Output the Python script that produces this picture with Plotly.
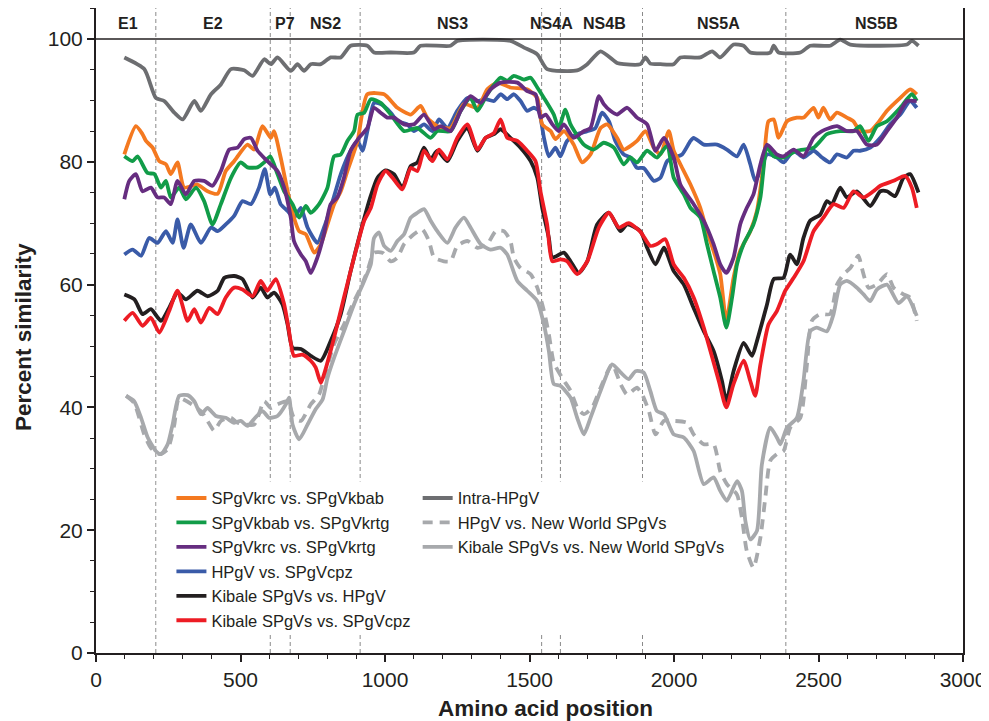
import plotly.graph_objects as go

# ---------------- data ----------------
intra_x = [98,167,207,236,271,300,340,363,398,432,467,513,542,582,605,628,674,697,720,743,778,812,847,881,939,962,1020,1100,1123,1227,1250,1434,1481,1527,1561,1665,1700,1746,1803,1826,1884,1901,1918,1953,1999,2022,2091,2132,2160,2206,2241,2264,2333,2345,2362,2437,2471,2540,2575,2610,2806,2823,2846]
intra_y = [97,95.1,90.4,89.9,88,86.9,89.9,88.3,91,92.6,95.1,94.9,94,96.7,95.9,97,94.8,95.9,94.8,95.9,95.9,97,97,98.9,98.9,97.8,97.8,97.8,98.9,98.9,99.7,99.7,98.6,97.5,95.1,94.9,95.9,98,96.1,95.9,95.9,97,96,95.9,95.9,97,97,98,97,99.1,98.9,97.8,97.8,98.9,97.8,97.8,98.9,98.9,99.9,99.1,99.1,99.7,98.9]

orange_x = [98,138,161,173,196,219,242,259,282,305,351,386,421,449,478,524,547,576,605,616,639,663,685,703,726,755,778,801,824,847,870,905,939,997,1043,1089,1123,1146,1181,1227,1273,1320,1354,1389,1434,1492,1527,1544,1573,1590,1619,1653,1682,1711,1746,1769,1803,1826,1872,1901,1930,1953,1982,1999,2022,2057,2091,2114,2137,2160,2181,2206,2229,2264,2287,2310,2327,2345,2362,2391,2425,2448,2483,2500,2517,2540,2564,2598,2621,2644,2679,2702,2737,2783,2817,2840]
orange_y = [81.2,85.8,84.5,83.4,82.3,80.1,79.6,78,79.9,75.8,76.3,75.2,74.8,78.5,80.1,82.8,82,85.8,83.9,85,80.7,75.2,70.9,68.7,68.2,65.2,66.6,69.8,73.1,75.2,78.5,83.4,91,91,88.8,87.7,89.1,87.2,85.8,85.5,89.4,88.8,91.8,92.9,92.1,91.8,90.4,86.1,85,83.7,85,82.8,79.9,81.2,85.5,86.1,83.9,82,83.4,85,82.3,81.2,85,81.8,79.6,76.3,72.5,68.7,65.5,61.7,54.1,61.1,65.5,68.7,72,79.6,86.6,86.9,83.9,86.6,87.2,87.2,88.8,87.2,88.8,86.9,88,87.2,86.6,85,85,86.1,88.3,90.4,91.8,91]

green_x = [98,127,144,178,202,225,242,259,288,311,346,374,403,432,467,501,524,559,582,603,628,651,680,703,726,743,772,801,824,847,870,893,905,928,951,985,1020,1066,1112,1158,1181,1227,1262,1296,1320,1354,1400,1423,1446,1481,1504,1527,1550,1584,1601,1624,1642,1688,1722,1757,1792,1826,1849,1872,1907,1941,1976,1999,2034,2057,2091,2114,2137,2160,2181,2201,2218,2241,2275,2299,2322,2345,2379,2425,2483,2529,2575,2621,2644,2673,2702,2737,2783,2823,2840]
green_y = [80.9,80.1,80.9,78.2,78,75.8,76.9,74.2,75.8,73.9,75.8,73.6,69.8,73.1,77.4,79.9,79.1,79.1,79.9,80.9,78,75.2,73.1,70.9,72.8,71.7,73.1,75.8,80.9,81.2,83.4,85,87.7,88,90.2,89.6,87.7,85,85.5,83.9,85,85,88.3,90.4,88.3,91,93.7,93.2,94,93.4,93.7,92.1,90.4,87.7,85.5,88.5,86.1,82.8,82,83.1,82.3,79.6,80.7,79.9,81.8,80.7,82.6,77.4,74.7,72.5,70.9,66.6,62.2,57.9,53,57.9,63.3,66.6,69.8,74.2,82.3,80.9,80.7,81.8,82.3,84.5,85,85,85.8,83.4,85.8,86.6,88.8,91,89.9]

purple_x = [98,115,138,161,190,213,236,259,282,311,340,374,403,432,461,490,513,536,559,593,628,651,674,685,709,726,743,766,789,812,835,858,881,910,939,962,985,1008,1031,1066,1100,1135,1170,1193,1227,1262,1296,1331,1365,1400,1458,1492,1521,1538,1556,1579,1601,1619,1653,1688,1711,1740,1757,1780,1803,1838,1872,1907,1936,1965,1999,2022,2068,2103,2137,2160,2181,2206,2229,2252,2275,2299,2322,2356,2379,2414,2448,2483,2512,2564,2598,2633,2667,2702,2737,2771,2806,2840]
purple_y = [73.9,76.9,78,75.2,75.8,74.2,74.2,73.1,76.9,74.7,76.9,76.9,76.1,78.5,82,82.3,83.7,83.9,81.8,80.1,78.5,75.8,70.9,67.1,64.9,63.8,61.9,64.4,68.2,73.1,74.2,77.4,81.8,83.9,85.5,88.8,88,87.2,87.2,86.1,86.1,87.7,85.3,85.8,85,88.3,90.7,89.6,91.8,92.9,92.9,91.5,91,87.2,87.7,86.1,85,86.1,83.9,85,85.5,90.7,89.4,88.3,87.7,88.8,87.2,86.1,81.8,83.9,80.7,76.3,73.1,70.4,66.6,63.3,61.9,64.4,69.8,72.5,74.7,79.6,82.8,81.2,80.9,82,80.9,83.9,85,85.8,85,85,82.8,82.8,85,87.2,89.9,89.9]

blue_x = [98,127,156,184,213,242,265,282,303,328,363,398,421,449,478,507,536,564,584,603,619,639,663,685,709,732,766,789,812,847,881,905,922,939,962,985,1020,1043,1077,1100,1135,1164,1187,1216,1250,1285,1320,1348,1377,1400,1423,1446,1469,1492,1515,1532,1550,1567,1590,1607,1630,1665,1700,1728,1751,1775,1797,1826,1849,1872,1895,1930,1953,1976,1999,2028,2057,2068,2103,2149,2183,2218,2241,2264,2281,2299,2322,2356,2379,2414,2448,2483,2512,2540,2564,2598,2621,2644,2679,2714,2748,2783,2817,2840]
blue_y = [64.9,65.7,64.7,67.6,66.8,68.7,66.8,70.6,66,69.8,66.8,69.3,68.7,69.8,71.2,73.6,73.1,75.8,78.8,74.7,75.8,73.1,72,70.9,72.5,69.3,66.8,69.3,72.5,78,81.8,83.4,81.8,85,89.6,89.4,88,86.6,86.1,85,86.1,85,86.9,85.5,88.3,90.4,89.9,90.2,89.9,91,90.2,91,89.9,88.3,88.8,88.3,83.9,80.9,82.3,80.9,83.4,84.5,85,85.5,88,86.6,83.4,81.2,80.7,79,79,76.9,77.4,80.1,80.7,81.2,83.4,83.9,82.8,82.8,82,80.9,82.8,79.6,76.9,78.5,81.2,80.7,79.9,81.8,80.7,81.8,80.7,79.9,81.2,80.7,81.8,81.8,82.3,83.9,86.1,87.7,89.9,88.8]

black_x = [98,133,161,190,225,253,282,311,351,386,421,444,478,507,542,570,593,616,645,663,680,709,743,778,812,847,881,916,951,974,1002,1031,1060,1089,1112,1135,1158,1181,1216,1250,1285,1320,1348,1377,1400,1434,1469,1504,1527,1544,1567,1579,1619,1642,1671,1700,1734,1775,1815,1838,1884,1907,1936,1965,1999,2034,2068,2103,2137,2166,2181,2206,2241,2270,2287,2322,2345,2379,2402,2425,2448,2471,2506,2529,2546,2575,2598,2633,2679,2714,2737,2765,2794,2817,2846]
black_y = [58.4,57.6,55.2,56,54.1,56.2,58.7,57.6,59,58.1,59,61.1,61.4,60.9,57.9,59.5,57.9,58.7,56.8,53.5,49.7,49.5,48.4,47.6,50.8,55.2,62.2,68.7,74.5,77.4,78.6,78,75.8,79.3,79.9,82.3,80.4,81.8,80.1,83.4,85.5,81.8,83.9,84.5,85.3,83.9,82.3,80.1,77.4,72.5,67.6,64.4,65.2,63.8,61.9,63.8,69.8,71.7,68.7,69.8,68.7,66,63.3,66,62.2,60,56.2,52.4,49.2,44.3,41,45.9,50.5,48.4,50.8,56.8,60.9,61.1,64.9,63.3,67.6,70.4,71.4,73.6,73.1,75.8,74.2,75.2,72.8,75.2,75.2,74.4,77.4,78,75]

red_x = [98,127,161,190,219,253,282,317,340,363,392,421,449,478,507,542,570,593,622,651,668,685,714,743,760,778,789,824,858,893,928,951,974,1002,1031,1060,1089,1112,1135,1164,1187,1216,1250,1285,1320,1348,1377,1400,1423,1458,1492,1521,1538,1561,1579,1607,1630,1665,1700,1740,1775,1809,1843,1884,1918,1941,1970,1999,2034,2068,2103,2126,2155,2181,2206,2241,2264,2281,2299,2327,2356,2385,2414,2448,2483,2517,2552,2587,2621,2656,2690,2714,2760,2800,2823,2840]
red_y = [54.1,55.4,53.3,54.6,52.2,55.7,59,54.1,56,53.8,56.2,55.2,57.9,59.5,59.2,58.1,60.6,59,60.9,56.8,52.4,48.4,48.6,47.6,46.5,44,45.4,51.4,57.9,64.4,70.4,72.5,76.3,78.5,77.1,75.5,79,78.5,81.8,80.1,82,80.4,83.9,86.1,82,83.9,84.7,86.9,83.9,83.4,81.8,80.1,75.2,69.8,63.8,64.1,63.8,61.7,63.8,69.3,71.7,69.3,70,68.6,66.3,66.6,67.4,63.3,61.1,57.9,53,49.2,44.3,40,43.8,47.6,44.3,41.9,47,53.5,55.7,59,61.1,63.8,68.7,70.9,73.1,72.5,75.2,74.2,75.2,76.1,76.9,77.7,75.8,72.5]

kibnw_x = [104,132,156,179,207,225,248,265,288,317,340,363,386,415,449,478,501,524,547,576,599,628,657,668,680,703,732,760,784,801,824,858,893,928,951,962,979,997,1020,1043,1066,1089,1112,1135,1158,1181,1216,1244,1273,1296,1331,1365,1400,1423,1458,1492,1527,1550,1567,1584,1607,1642,1665,1688,1711,1746,1786,1815,1843,1867,1895,1918,1941,1965,1999,2034,2068,2103,2137,2160,2183,2218,2235,2247,2264,2287,2304,2333,2356,2368,2391,2425,2448,2471,2494,2529,2552,2575,2598,2633,2656,2679,2702,2737,2777,2806,2840]
kibnw_y = [41.9,41,38.3,35.1,32.9,32.4,34,37.2,41.9,42,41,38.9,39.9,38.6,38.3,37.5,37.8,37,38.1,39.4,38.3,38.6,40.5,41.6,37.2,34.8,37.2,39.7,41.3,44.8,48.1,52.4,56.8,60.6,63.3,67.6,68.5,66.3,65.5,67.1,68.2,70.9,71.7,72.3,70.4,68.7,66.8,69.3,70.9,69.3,66.6,65.7,66,64.9,60.6,59,57.3,53.5,49.2,43.8,43.5,41.6,38.3,35.6,38.3,42.7,47,45.7,44.6,45.9,45.7,42.7,39.4,38.9,35.6,35.1,32.9,27.5,28.6,26.4,24.8,28,26.4,21.5,18.5,19.9,30.7,36.7,35.1,34,36.7,38.3,44.3,52.4,53,52.4,55.2,60,60.6,59.5,58.4,57.3,59.2,60,57,58.1,54.9]

hpgnw_x = [104,132,167,190,219,248,271,288,363,386,409,432,467,490,547,582,605,628,663,685,709,743,772,789,824,858,893,916,939,962,991,1020,1043,1066,1100,1129,1152,1170,1204,1227,1250,1285,1320,1354,1383,1411,1434,1446,1469,1504,1527,1550,1567,1584,1613,1642,1665,1688,1717,1746,1786,1815,1838,1872,1890,1913,1936,1965,1999,2045,2068,2103,2137,2160,2183,2218,2235,2252,2275,2299,2316,2333,2356,2379,2402,2437,2460,2477,2506,2540,2564,2587,2610,2638,2650,2673,2702,2737,2760,2794,2817,2840]
hpgnw_y = [41.9,40.7,35.6,33.4,32.4,33.2,37.2,41.5,39.4,37.8,36.2,37.8,38.3,37.5,37.2,41,39.9,40.5,41,38.3,37.8,40.5,42.1,44.8,50.3,53.5,57.3,59.5,62.2,65.2,65.2,63.8,64.4,66.6,68.2,69,67.1,64.4,63.8,63.8,66.3,67.1,66,66.6,68.7,68.7,67.1,64.4,62.7,61.7,59.5,55.7,51.9,47.3,44.8,42.7,40,38.9,40,43.2,47,43.8,42.1,43.2,42.1,39.4,35.6,37.8,37.8,37.5,35.6,34,34,29.6,27.5,25.8,22,16.6,13.9,18.8,25.3,31.3,32.4,32.9,36.7,38.3,47,54.1,55.2,55.2,60,61.7,62.7,64.7,62.7,59.5,60,61.7,59.5,58.4,57.9,54.1]

gene_names = ["E1", "E2", "P7", "NS2", "NS3", "NS4A", "NS4B", "NS5A", "NS5B"]
gene_label_x = [110, 404, 653, 795, 1234, 1576, 1759, 2153, 2700]
gene_bounds = [207, 603, 672, 914, 1542, 1607, 1891, 2387]

y_ticks = [0, 20, 40, 60, 80, 100]
x_ticks = [0, 500, 1000, 1500, 2000, 2500, 3000]

# ---------------- figure ----------------
FONT = "Arial, Liberation Sans, Helvetica, sans-serif"
INK = "#231f20"

series = [
    # name, x, y, color, dash, legend, rank
    ("HPgV vs. New World SPgVs", hpgnw_x, hpgnw_y, "#a7a9ac", "10px,7px", "legend2", 2),
    ("Kibale SPgVs vs. New World SPgVs", kibnw_x, kibnw_y, "#a7a9ac", "solid", "legend2", 3),
    ("Intra-HPgV", intra_x, intra_y, "#6d6e71", "solid", "legend2", 1),
    ("HPgV vs. SPgVcpz", blue_x, blue_y, "#3a5ba8", "solid", "legend", 4),
    ("SPgVkrc vs. SPgVkbab", orange_x, orange_y, "#f47920", "solid", "legend", 1),
    ("SPgVkbab vs. SPgVkrtg", green_x, green_y, "#119c48", "solid", "legend", 2),
    ("SPgVkrc vs. SPgVkrtg", purple_x, purple_y, "#662d80", "solid", "legend", 3),
    ("Kibale SPgVs vs. HPgV", black_x, black_y, "#231f20", "solid", "legend", 5),
    ("Kibale SPgVs vs. SPgVcpz", red_x, red_y, "#ed1c24", "solid", "legend", 6),
]

fig = go.Figure()
for name, xs, ys, col, dash, leg, rank in series:
    fig.add_trace(go.Scatter(
        x=xs, y=ys, mode="lines", name=name,
        line=dict(color=col, width=3.8, dash=dash, shape="spline", smoothing=0.6),
        legend=leg, legendrank=rank, legendgroup=name,
        hoverinfo="skip",
    ))

shapes = []
for b in gene_bounds:
    shapes.append(dict(type="line", xref="x", yref="paper", x0=b, x1=b, y0=0, y1=1,
                       line=dict(color="#8a8a8a", width=1, dash="4px,3px"), layer="below"))
# white backing behind the legend block (hides gene boundary lines there)
shapes.append(dict(type="rect", xref="paper", yref="paper", x0=0.07, x1=0.737, y0=0.030, y1=0.266,
                   fillcolor="white", line=dict(width=0), layer="below"))
# line separating gene band from data area
shapes.append(dict(type="line", xref="paper", yref="y", x0=0, x1=1, y0=100, y1=100,
                   line=dict(color=INK, width=1.6), layer="above"))

annotations = []
for g, gx in zip(gene_names, gene_label_x):
    annotations.append(dict(x=gx, y=102.45, xref="x", yref="y", text=f"<b>{g}</b>", showarrow=False,
                            font=dict(family=FONT, size=16, color=INK), xanchor="center", yanchor="middle"))
annotations.append(dict(x=-0.083, y=0.49, xref="paper", yref="paper", text="<b>Percent similarity</b>",
                        textangle=-90, showarrow=False, font=dict(family=FONT, size=22.5, color=INK),
                        xanchor="center", yanchor="middle"))
annotations.append(dict(x=0.519, y=-0.086, xref="paper", yref="paper", text="<b>Amino acid position</b>",
                        showarrow=False, font=dict(family=FONT, size=22.5, color=INK),
                        xanchor="center", yanchor="middle"))

# the page body has an 8px margin, so the figure is sized/positioned to compensate
fig.update_layout(
    width=981, height=713,
    margin=dict(l=88, r=26, t=0, b=68, autoexpand=False),
    paper_bgcolor="white", plot_bgcolor="white",
    font=dict(family=FONT, color=INK),
    shapes=shapes, annotations=annotations,
    showlegend=True,
    legend=dict(x=0.087, y=0.267, xanchor="left", yanchor="top", bgcolor="rgba(255,255,255,0)",
                font=dict(family=FONT, size=16.5, color=INK), tracegroupgap=4, itemwidth=30,
                traceorder="normal"),
    legend2=dict(x=0.371, y=0.267, xanchor="left", yanchor="top", bgcolor="rgba(255,255,255,0)",
                 font=dict(family=FONT, size=16.5, color=INK), tracegroupgap=4, itemwidth=30,
                 traceorder="normal"),
)
fig.update_xaxes(range=[0, 3000], tickvals=x_ticks, ticktext=[str(v) for v in x_ticks],
                 ticks="outside", ticklen=7, tickwidth=1.6, tickcolor=INK,
                 minor=dict(dtick=100, tick0=0, ticks="outside", ticklen=4, tickwidth=1.4, tickcolor=INK),
                 showgrid=False, zeroline=False, showline=True, linewidth=2, linecolor=INK, mirror=True,
                 tickfont=dict(family=FONT, size=21, color=INK), automargin=False)
fig.update_yaxes(range=[0, 105.05], tickvals=y_ticks, ticktext=[str(v) for v in y_ticks],
                 ticks="outside", ticklen=7, tickwidth=1.6, tickcolor=INK,
                 minor=dict(dtick=5, tick0=0, ticks="outside", ticklen=4, tickwidth=1.4, tickcolor=INK),
                 showgrid=False, zeroline=False, showline=True, linewidth=2, linecolor=INK, mirror=True,
                 tickfont=dict(family=FONT, size=21, color=INK), automargin=False)

fig.write_html("out.html")
